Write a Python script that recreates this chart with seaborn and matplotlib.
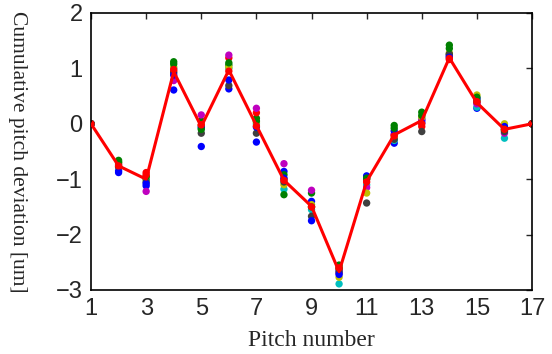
import numpy as np
import pandas as pd
import seaborn as sns
import matplotlib
matplotlib.use("Agg")
import matplotlib.pyplot as plt

pitch = list(range(1, 18))

run_b1 = [0, -0.85, -1.12, 0.61, -0.41, 0.63, -0.33, -0.86, -1.40, -2.65, -0.94, -0.35, 0.06, 1.22, 0.28, -0.07, 0]
run_g1 = [0, -0.66, -1.00, 1.12, 0.05, 1.06, 0.10, -0.92, -1.25, -2.55, -1.00, -0.03, 0.21, 1.42, 0.43, -0.12, 0]
run_r1 = [0, -0.74, -0.88, 0.95, -0.02, 1.19, 0.20, -1.00, -1.50, -2.62, -1.00, -0.20, -0.05, 1.16, 0.38, -0.10, 0]
run_c1 = [0, -0.77, -0.98, 1.00, -0.08, 1.00, 0.00, -1.18, -1.55, -2.89, -1.10, -0.30, 0.10, 1.25, 0.30, -0.26, 0]
run_m1 = [0, -0.72, -1.22, 0.78, 0.16, 1.24, 0.28, -0.72, -1.20, -2.70, -1.15, -0.19, 0.08, 1.24, 0.36, -0.17, 0]
run_y1 = [0, -0.70, -0.96, 1.03, -0.04, 1.02, 0.03, -1.10, -1.46, -2.77, -1.25, -0.25, 0.12, 1.28, 0.52, 0.00, 0]
run_k1 = [0, -0.78, -1.05, 0.92, -0.17, 0.69, -0.17, -1.05, -1.67, -2.68, -1.43, -0.28, -0.14, 1.26, 0.40, -0.14, 0]
run_b2 = [0, -0.88, -1.08, 0.88, -0.06, 0.79, -0.06, -0.98, -1.75, -2.72, -0.96, -0.13, 0.02, 1.20, 0.46, -0.05, 0]
run_g2 = [0, -0.69, -0.95, 1.08, -0.10, 1.10, 0.05, -1.28, -1.50, -2.60, -0.98, -0.08, 0.15, 1.36, 0.48, -0.10, 0]
run_r2 = [0, -0.76, -0.92, 0.98, -0.02, 0.95, -0.04, -1.02, -1.50, -2.60, -1.05, -0.22, 0.00, 1.18, 0.40, -0.10, 0]

mean_dev = [0, -0.76, -1.00, 0.94, -0.05, 0.97, -0.03, -1.02, -1.49, -2.67, -1.04, -0.20, 0.06, 1.19, 0.38, -0.10, 0]

runs = [run_b1, run_g1, run_r1, run_c1, run_m1, run_y1, run_k1, run_b2, run_g2, run_r2]
run_colors = ["#0000ff", "#008000", "#ff0000", "#00bfbf", "#bf00bf",
              "#bfbf00", "#404040", "#0000ff", "#008000", "#ff0000"]

df = pd.concat(
    [pd.DataFrame({"Pitch": pitch, "Deviation": vals, "Run": i}) for i, vals in enumerate(runs)],
    ignore_index=True,
)

sns.set_style("white")
fig = plt.figure(figsize=(5.52, 3.54), dpi=100)
ax = fig.add_axes([0.1649, 0.1808, 0.7989, 0.7825])

sns.scatterplot(
    data=df, x="Pitch", y="Deviation", hue="Run",
    palette=run_colors, legend=False, s=28, linewidth=0, ax=ax, zorder=2,
)
sns.lineplot(x=pitch, y=mean_dev, color="red", linewidth=2.2, ax=ax, zorder=3)

ax.set_xlim(1, 17)
ax.set_ylim(-3, 2)
ax.set_xticks(range(1, 18, 2))
ax.set_yticks(range(-3, 3))
ax.tick_params(direction="in", length=4, width=1, top=True, right=True,
               labelsize=17, pad=6)
for lbl in ax.get_xticklabels() + ax.get_yticklabels():
    lbl.set_family("Liberation Sans")
for sp in ax.spines.values():
    sp.set_linewidth(1.2)
    sp.set_color("black")

ax.set_xlabel("Pitch number", family="Liberation Serif", fontsize=17, labelpad=7)
ax.set_ylabel("Cumulative pitch deviation [um]", family="Liberation Serif",
              fontsize=15.5, rotation=270, va="center")
ax.yaxis.set_label_coords(-0.166, 0.5)

fig.savefig("out.png", dpi=100)
